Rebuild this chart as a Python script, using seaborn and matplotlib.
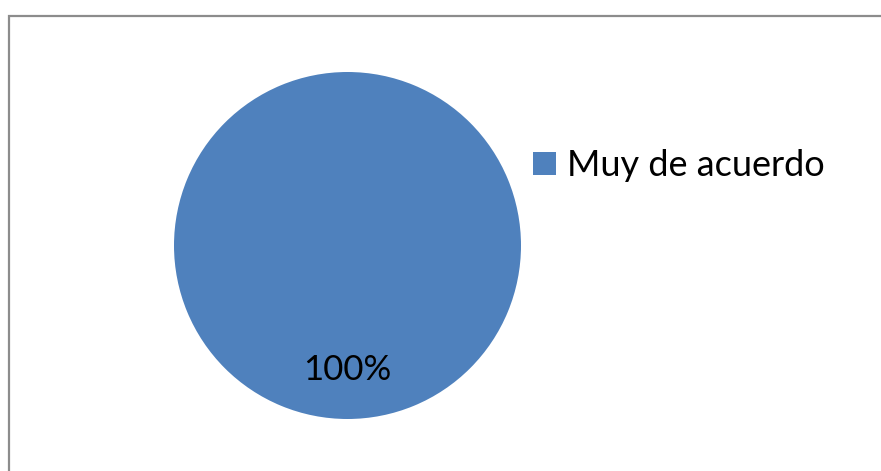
import matplotlib
matplotlib.use("Agg")
import matplotlib.pyplot as plt
from matplotlib.patches import Rectangle, Patch
import seaborn as sns

sns.set_theme(style="white")
plt.rcParams["font.family"] = ["Lato", "DejaVu Sans"]

categories = ["Muy de acuerdo"]
values = [100]
colors = ["#4F81BD"]

W, H = 881, 471
fig = plt.figure(figsize=(W / 100, H / 100), dpi=100)
fig.patch.set_facecolor("white")

# chart-area border (top and left edges visible)
fig.add_artist(Rectangle((8.5 / W, -0.1), 1.2, 1.1 - 15.5 / H,
                         transform=fig.transFigure, fill=False,
                         edgecolor="#8c8c8c", linewidth=1.6))

# pie placed in pixel box
left, right, top, bottom = 174, 521, 72, 419
ax = fig.add_axes([left / W, (H - bottom) / H, (right - left) / W, (bottom - top) / H])
wedges, texts, autotexts = ax.pie(values, colors=colors, startangle=90, counterclock=False,
                                  autopct="%1.0f%%", pctdistance=0.72,
                                  textprops={"fontsize": 25, "color": "black"},
                                  wedgeprops={"linewidth": 0})
ax.set_xlim(-1, 1)
ax.set_ylim(-1, 1)
ax.set_aspect("equal")
ax.axis("off")

handles = [Patch(facecolor=c, edgecolor="none") for c in colors]
leg = fig.legend(handles, categories, loc="center left",
                 bbox_to_anchor=(533 / W, (H - 166) / H),
                 frameon=False, fontsize=26, borderpad=0, borderaxespad=0,
                 handlelength=0.64, handleheight=0.61, handletextpad=0.30)
for t in leg.get_texts():
    t.set_color("black")

fig.savefig("out.png", dpi=100, facecolor="white")
